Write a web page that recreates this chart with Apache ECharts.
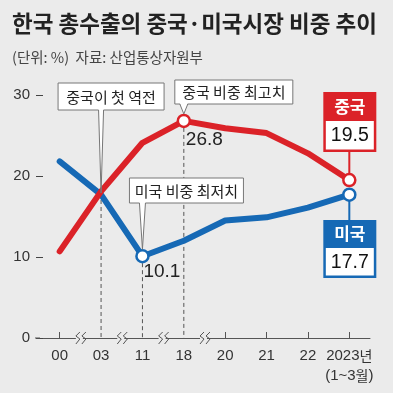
<!DOCTYPE html>
<html><head><meta charset="utf-8">
<script src="https://cdn.jsdelivr.net/npm/echarts@6/dist/echarts.min.js"></script>
<style>html,body{margin:0;padding:0;background:#ebebeb}#c{width:393px;height:393px}</style>
</head><body><div id="c"></div>
<script>
const years = ['00','03','11','18','20','21','22','2023년\n(1~3월)'];
const china = [10.7, 18.1, 24.1, 26.8, 25.9, 25.3, 22.8, 19.5];
const usa = [21.8, 17.7, 10.1, 12.0, 14.5, 14.9, 16.1, 17.7];
const yTicks = [0, 10, 20, 30];
const chinaMarks = [3, 7];
const usaMarks = [2, 7];

const RED = '#db2228', BLUE = '#1669b5', BG = '#ebebeb';
const FONT = '"Noto Sans CJK KR", "Noto Sans", sans-serif';
const NUMFONT = '"Liberation Sans", Arial, sans-serif';

function mk(vals, marks, color) {
  return vals.map((v, i) => marks.includes(i)
    ? {value: v, symbol: 'circle', symbolSize: 12, itemStyle: {color: '#fff', borderColor: color, borderWidth: 2.5}}
    : {value: v, symbol: 'none'});
}

const chart = echarts.init(document.getElementById('c'), null, {renderer: 'canvas'});
chart.setOption({
  animation: false,
  backgroundColor: BG,
  title: [
    {text: '한국 총수출의 중국·미국시장 비중 추이', left: 12, top: 9, padding: 0,
     textStyle: {fontFamily: FONT, fontSize: 22.5, fontWeight: 'bold', color: '#222', lineHeight: 28}},
    {text: '(단위: %)  자료: 산업통상자원부', left: 12, top: 48, padding: 0,
     textStyle: {fontFamily: FONT, fontSize: 14.5, fontWeight: 'normal', color: '#444', lineHeight: 18}}
  ],
  grid: {left: 39, right: 23, top: 95, bottom: 55},
  xAxis: {
    type: 'category', data: years, boundaryGap: true,
    axisLine: {lineStyle: {color: '#555', width: 1}},
    axisTick: {show: true, inside: true, length: 6, alignWithLabel: true,
      interval: (idx) => [0, 4, 5, 6, 7].includes(idx), lineStyle: {color: '#555'}},
    axisLabel: {color: '#333', fontFamily: NUMFONT, fontSize: 15, margin: 8, lineHeight: 20, interval: 0,
      formatter: (v) => v.replace('년', '{k|년}').replace('월', '{k|월}'),
      rich: {k: {fontFamily: FONT, fontSize: 14, color: '#333'}}},
    splitLine: {show: false}
  },
  yAxis: {
    type: 'value', min: yTicks[0], max: yTicks[yTicks.length - 1], interval: 10, offset: -4,
    axisLine: {show: false},
    axisTick: {show: true, length: 7, lineStyle: {color: '#444'}},
    axisLabel: {color: '#333', fontFamily: NUMFONT, fontSize: 15, margin: 13},
    splitLine: {show: false}
  },
  series: [
    {name: '미국', type: 'line', data: mk(usa, usaMarks, BLUE), symbol: 'none', showSymbol: true,
     lineStyle: {color: BLUE, width: 6, cap: 'round', join: 'round'}, itemStyle: {color: BLUE}, z: 3,
     emphasis: {disabled: true}},
    {name: '중국', type: 'line', data: mk(china, chinaMarks, RED), symbol: 'none', showSymbol: true,
     lineStyle: {color: RED, width: 6, cap: 'round', join: 'round'}, itemStyle: {color: RED}, z: 4,
     emphasis: {disabled: true}}
  ]
});

const P = (i, v) => chart.convertToPixel({xAxisIndex: 0, yAxisIndex: 0}, [i, v]);
const g = [];
function txt(x, y, t, size, color, bold, font, z) {
  g.push({type: 'text', z: z || 20, style: {text: t, x: x, y: y, fill: color,
    font: (bold ? 'bold ' : '') + size + 'px ' + (font || FONT),
    align: 'center', verticalAlign: 'middle', textAlign: 'center', textVerticalAlign: 'middle'}});
}
function line(x1, y1, x2, y2, color, w, dash, z) {
  g.push({type: 'line', z: z || 1, shape: {x1, y1, x2, y2},
    style: {stroke: color, lineWidth: w, lineDash: dash || null}});
}
function box(x, y, w, h, t, wedge) {
  g.push({type: 'rect', z: 10, shape: {x, y, width: w, height: h}, style: {fill: '#fff', stroke: '#777', lineWidth: 1}});
  if (wedge) {
    const by = y + h;
    g.push({type: 'polygon', z: 11, shape: {points: [[wedge.x - wedge.half, by - 1], [wedge.x + wedge.half, by - 1], wedge.tip]},
      style: {fill: '#fff'}});
    g.push({type: 'polyline', z: 11, shape: {points: [[wedge.x - wedge.half, by], wedge.tip, [wedge.x + wedge.half, by]]},
      style: {stroke: '#777', lineWidth: 1, fill: null}});
  }
  txt(x + w / 2, y + h / 2 + 0.5, t, 15, '#222', false, FONT, 12);
}

const y0 = P(0, 0)[1];
const cross = P(1, (china[1] + usa[1]) / 2);
line(cross[0], cross[1], cross[0], y0, '#555', 1, [4, 3], 1);
const lowU = P(2, usa[2]);
line(lowU[0], lowU[1], lowU[0], y0, '#555', 1, [4, 3], 1);
const hiC = P(3, china[3]);
line(hiC[0], hiC[1], hiC[0], y0, '#555', 1, [4, 3], 1);

box(cross[0] - 43, 83, 106, 27, '중국이 첫 역전', {x: cross[0], half: 2.5, tip: [cross[0], cross[1]]});
box(hiC[0] - 9, 80, 118, 24, '중국 비중 최고치', {x: hiC[0], half: 4, tip: [hiC[0], hiC[1] - 7]});
box(lowU[0] - 13, 178, 114, 25, '미국 비중 최저치', {x: lowU[0], half: 3, tip: [lowU[0], lowU[1] - 7]});

g.push({type: 'text', z: 12, style: {text: String(china[3]), x: hiC[0] + 2, y: hiC[1] + 19, fill: '#222',
  font: '19px ' + NUMFONT, align: 'left', verticalAlign: 'middle', textAlign: 'left', textVerticalAlign: 'middle'}});
g.push({type: 'text', z: 12, style: {text: String(usa[2]), x: lowU[0] + 1, y: lowU[1] + 16, fill: '#222',
  font: '19px ' + NUMFONT, align: 'left', verticalAlign: 'middle', textAlign: 'left', textVerticalAlign: 'middle'}});

const endC = P(7, china[7]);
const endU = P(7, usa[7]);
const bx = endC[0] - 26, bw = 53;
line(endC[0], 150, endC[0], endC[1], RED, 2, null, 1);
g.push({type: 'rect', z: 10, shape: {x: bx, y: 92, width: bw, height: 60}, style: {fill: RED}});
g.push({type: 'rect', z: 11, shape: {x: bx + 2.5, y: 121, width: bw - 5, height: 28.5}, style: {fill: '#fff'}});
txt(bx + bw / 2, 107, '중국', 17, '#fff', true, FONT, 12);
txt(bx + bw / 2, 136, String(china[7]), 19.5, '#111', false, NUMFONT, 12);

line(endU[0], endU[1], endU[0], 222, BLUE, 2, null, 1);
g.push({type: 'rect', z: 10, shape: {x: bx, y: 220, width: bw, height: 58}, style: {fill: BLUE}});
g.push({type: 'rect', z: 11, shape: {x: bx + 2.5, y: 248, width: bw - 5, height: 27.5}, style: {fill: '#fff'}});
txt(bx + bw / 2, 234, '미국', 17, '#fff', true, FONT, 12);
txt(bx + bw / 2, 262.5, String(usa[7]), 19.5, '#111', false, NUMFONT, 12);

line(35, y0, 40, y0, '#555', 1, null, 1);

[[0, 1], [1, 2], [2, 3], [3, 4]].forEach(([a, b]) => {
  const cx = (P(a, 0)[0] + P(b, 0)[0]) / 2 + 0.5;
  g.push({type: 'rect', z: 5, shape: {x: cx - 5, y: y0 - 2, width: 7, height: 4}, style: {fill: BG}});
  [-5, 1].forEach(o => {
    g.push({type: 'polyline', z: 6, shape: {points: [[cx + o + 4, y0 - 6], [cx + o, y0 - 2], [cx + o + 4, y0 + 1], [cx + o, y0 + 6]]},
      style: {stroke: '#555', lineWidth: 1, fill: null}});
  });
});

chart.setOption({graphic: {elements: g}});
</script></body></html>
